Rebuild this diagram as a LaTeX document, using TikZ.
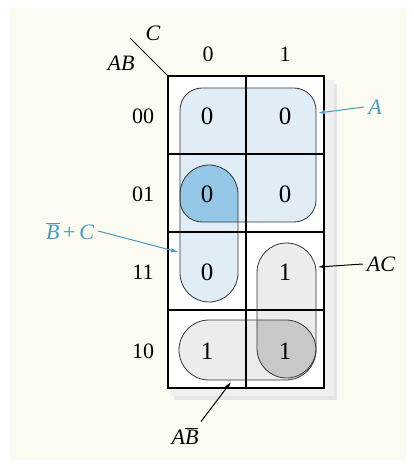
\documentclass[tikz,border=0pt]{standalone}
\usepackage{fontspec}
\setmainfont{Liberation Serif}
\usepackage{tikz}
\usetikzlibrary{arrows.meta,positioning,calc}
\definecolor{paper}{RGB}{252,251,241}
\definecolor{loopblue}{RGB}{224,237,246}
\definecolor{deepblue}{RGB}{148,198,230}
\definecolor{loopgray}{RGB}{236,236,234}
\definecolor{deepgray}{RGB}{200,200,198}
\definecolor{labelblue}{RGB}{74,152,192}
\newcommand{\kbar}[1]{$\overline{\mbox{#1}}$}

\begin{document}
\begin{tikzpicture}[x=1pt, y=-1pt,
  cell/.style={font=\fontsize{25}{28}\selectfont, inner sep=0pt},
  idx/.style={font=\fontsize{22}{25}\selectfont, inner sep=0pt},
  term/.style={font=\fontsize{22}{25}\selectfont\itshape, inner sep=0pt},
  rim/.style={draw=black!80, line width=0.8pt},
  arr/.style={-{Latex[length=7pt, width=4.5pt]}, line width=1pt}]
  \useasboundingbox (0,0) rectangle (413,466);
  \fill[white] (0,0) rectangle (413,466);
  \fill[paper] (10,8) rectangle (406,460);
  % shadow of the map
  \fill[black!10] (174,84) rectangle (337,400);
  \fill[black!6] (171,80) rectangle (334,396);
  \fill[white] (168,76) rectangle (324,388);
  % loops: fills first, overlaps darker
  \fill[loopblue, rounded corners=22pt] (180,88) rectangle (316,222);
  \fill[loopblue, rounded corners=29pt] (180,165) rectangle (238,302);
  \begin{scope}
    \clip[rounded corners=22pt] (180,88) rectangle (316,222);
    \fill[deepblue, rounded corners=29pt] (180,165) rectangle (238,302);
  \end{scope}
  \fill[loopgray, rounded corners=29.5pt] (257,243) rectangle (316,378);
  \fill[loopgray, rounded corners=30pt] (179,320) rectangle (316,380);
  \begin{scope}
    \clip[rounded corners=29.5pt] (257,243) rectangle (316,378);
    \fill[deepgray, rounded corners=30pt] (179,320) rectangle (316,380);
  \end{scope}
  % grid
  \draw[line width=1.4pt] (168,76) rectangle (324,388);
  \foreach \y in {154,232,310} \draw[line width=1.4pt] (168,\y) -- (324,\y);
  \draw[line width=1.4pt] (246,76) -- (246,388);
  \draw[line width=0.9pt] (130,38) -- (168,76);
  % loop outlines
  \draw[rim, rounded corners=22pt] (180,88) rectangle (316,222);
  \draw[rim, rounded corners=29pt] (180,165) rectangle (238,302);
  \draw[rim, rounded corners=29.5pt] (257,243) rectangle (316,378);
  \draw[rim, rounded corners=30pt] (179,320) rectangle (316,380);
  % headings
  \node[term] (vc) at (153,33) {C};
  \node[term] (vab) at (121,63) {AB};
  \node[idx] (c0) at (208,54) {0};
  \node[idx] (c1) at (285,54) {1};
  \node[idx] (r00) at (143,116) {00};
  \node[idx] (r01) at (143,194) {01};
  \node[idx] (r11) at (143,272) {11};
  \node[idx] (r10) at (143,351) {10};
  % cell values
  \node[cell] (m0) at (207,116) {0};
  \node[cell] (m1) at (285,116) {0};
  \node[cell] (m2) at (207,194) {0};
  \node[cell] (m3) at (285,194) {0};
  \node[cell] (m6) at (207,272) {0};
  \node[cell] (m7) at (285,272) {1};
  \node[cell] (m4) at (207,351) {1};
  \node[cell] (m5) at (285,351) {1};
  % terms and their pointers
  \node[term, text=labelblue] (tBC) at (70,231) {\kbar{B}\,\upshape+\,\itshape C};
  \node[term, text=labelblue] (tA) at (375,107) {A};
  \node[term] (tAC) at (381,264) {AC};
  \node[term] (tABb) at (185,436) {A\kbar{B}};
  \coordinate (pA) at (318,113);
  \coordinate (pBC) at (178,252);
  \coordinate (pAC) at (318,267);
  \coordinate (pABb) at (231,382);
  \draw[arr, labelblue] (tA.west) ++(-4,0) -- (pA);
  \draw[arr, labelblue] (tBC.east) ++(4,0) -- (pBC);
  \draw[arr] (tAC.west) ++(-4,0) -- (pAC);
  \draw[arr] (tABb.north) ++(16,-6) -- (pABb);
\end{tikzpicture}
\end{document}
